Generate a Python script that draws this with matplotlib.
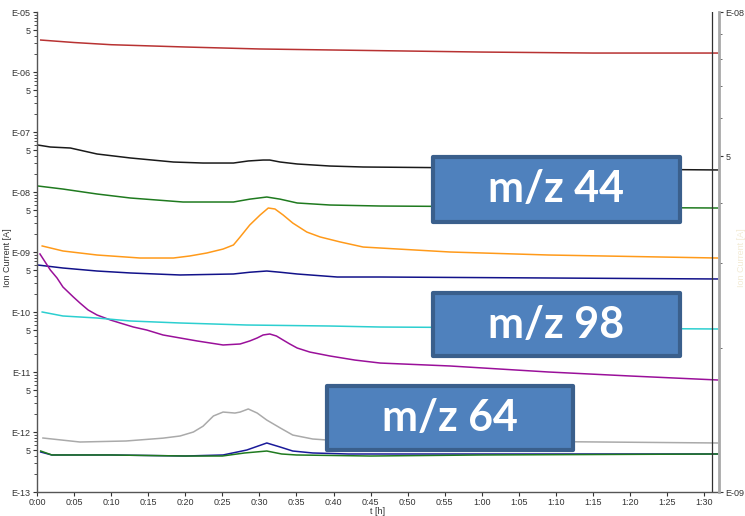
import numpy as np
import matplotlib.pyplot as plt
from matplotlib.patches import FancyBboxPatch
from matplotlib.ticker import FixedLocator, FuncFormatter, LogLocator, NullFormatter

plt.rcParams['font.family'] = ['Liberation Sans', 'DejaVu Sans']

# time in minutes, ion currents in A
t_red = [0.5, 5, 10, 20, 30, 45, 60, 75, 91.8]
red = [3.41e-6, 3.10e-6, 2.85e-6, 2.61e-6, 2.42e-6, 2.28e-6, 2.15e-6, 2.07e-6, 2.07e-6]

t_black = [0.1, 1.8, 4.5, 8.1, 12.6, 18.4, 22.4, 26.5, 28.5, 30.5, 31.4, 32.8, 35.1, 39.5,
           44, 60, 91.8]
black = [6.07e-8, 5.62e-8, 5.41e-8, 4.30e-8, 3.69e-8, 3.16e-8, 3.04e-8, 3.04e-8, 3.29e-8,
         3.41e-8, 3.41e-8, 3.16e-8, 2.93e-8, 2.71e-8, 2.61e-8, 2.51e-8, 2.33e-8]

t_green = [0.1, 3.5, 8.1, 12.6, 19.7, 26.5, 28.7, 31, 32.8, 35.1, 39.5, 46.3, 70, 91.8]
green = [1.26e-8, 1.12e-8, 9.26e-9, 7.94e-9, 6.81e-9, 6.81e-9, 7.6e-9, 8.25e-9, 7.6e-9,
         6.56e-9, 6.07e-9, 5.84e-9, 5.6e-9, 5.41e-9]

t_orange = [0.7, 3.5, 8.1, 13.9, 18.4, 20.6, 22.9, 25.1, 26.5, 27.4, 28.7, 30.1, 31.2, 32.1,
            33.2, 34.5, 36.4, 38.2, 40.9, 44, 55.7, 69, 91.8]
orange = [1.26e-9, 1.04e-9, 8.91e-10, 7.94e-10, 7.94e-10, 8.58e-10, 9.62e-10, 1.12e-9,
          1.31e-9, 1.78e-9, 2.82e-9, 4.14e-9, 5.41e-9, 5.21e-9, 4.14e-9, 3.04e-9, 2.15e-9,
          1.78e-9, 1.47e-9, 1.21e-9, 1.0e-9, 8.91e-10, 7.94e-10]

t_navy = [0.1, 3.5, 8.1, 12.6, 19.3, 26.5, 28.7, 31, 32.8, 35.1, 40.5, 46.3, 91.8]
navy = [6.07e-10, 5.41e-10, 4.82e-10, 4.47e-10, 4.14e-10, 4.30e-10, 4.6e-10, 4.82e-10,
        4.6e-10, 4.30e-10, 3.83e-10, 3.83e-10, 3.55e-10]

t_purple = [0.4, 1.1, 1.8, 2.7, 3.5, 4.9, 5.8, 6.9, 8.1, 9.9, 11.2, 13.0, 14.8, 17.0, 19.3,
            21.6, 25.1, 27.4, 28.7, 29.7, 30.5, 31.4, 32.3, 33.2, 34.1, 35.1, 36.8, 39.5,
            42.9, 46.3, 55.7, 69, 80, 91.8]
purple = [9.26e-10, 6.81e-10, 5.01e-10, 3.69e-10, 2.61e-10, 1.78e-10, 1.41e-10, 1.08e-10,
          8.91e-11, 7.36e-11, 6.56e-11, 5.62e-11, 5.01e-11, 4.14e-11, 3.69e-11, 3.29e-11,
          2.82e-11, 2.93e-11, 3.29e-11, 3.69e-11, 4.14e-11, 4.30e-11, 3.98e-11, 3.41e-11,
          2.93e-11, 2.51e-11, 2.15e-11, 1.85e-11, 1.58e-11, 1.41e-11, 1.26e-11, 1.0e-11,
          8.58e-12, 7.36e-12]

t_cyan = [0.7, 3.5, 8.1, 12.6, 19.3, 28.3, 39.5, 46.3, 91.8]
cyan = [1.0e-10, 8.58e-11, 7.94e-11, 7.08e-11, 6.56e-11, 6.07e-11, 5.84e-11, 5.62e-11, 5.21e-11]

t_gray = [0.8, 5.8, 12, 17, 19.3, 21.1, 22.4, 23.8, 25.1, 26.7, 27.4, 28.5, 29.7, 31, 32.8,
          34.5, 37.2, 39.1, 60, 91.8]
gray = [7.94e-13, 6.81e-13, 7.08e-13, 7.9e-13, 8.58e-13, 1.0e-12, 1.25e-12, 1.85e-12,
        2.15e-12, 2.07e-12, 2.15e-12, 2.42e-12, 2.07e-12, 1.58e-12, 1.17e-12, 8.9e-13,
        7.64e-13, 7.36e-13, 7.08e-13, 6.56e-13]

t_blue_low = [0.5, 2, 10, 20, 25.1, 28.3, 31, 32.8, 34.5, 37.2, 42, 60, 91.8]
blue_low = [4.64e-13, 4.14e-13, 4.14e-13, 3.98e-13, 4.14e-13, 5.01e-13, 6.56e-13, 5.62e-13,
            4.82e-13, 4.47e-13, 4.30e-13, 4.30e-13, 4.30e-13]

t_green_low = [0.5, 2, 10, 20, 25, 28, 31, 33, 35, 45, 60, 91.8]
green_low = [4.82e-13, 4.14e-13, 4.14e-13, 3.98e-13, 3.98e-13, 4.47e-13, 4.82e-13, 4.30e-13,
             4.14e-13, 3.98e-13, 4.14e-13, 4.30e-13]

series = [
    (t_red, red, '#b83232'),
    (t_black, black, '#1a1a1a'),
    (t_green, green, '#1f7a1f'),
    (t_orange, orange, '#ff9a1a'),
    (t_navy, navy, '#12128a'),
    (t_purple, purple, '#9a109a'),
    (t_cyan, cyan, '#2ccfd0'),
    (t_gray, gray, '#aaaaaa'),
    (t_blue_low, blue_low, '#1a1a9a'),
    (t_green_low, green_low, '#1f7a1f'),
]

box_labels = ['m/z 44', 'm/z 98', 'm/z 64']
# box extents in pixels (left, top, right, bottom)
box_px = [(433, 157, 680, 222), (433, 293, 680, 356), (327, 386, 573, 450)]

W, H = 745, 516
fig = plt.figure(figsize=(W / 100, H / 100), dpi=100)
ax = fig.add_axes([37 / W, 1 - 492 / H, (719 - 37) / W, (492 - 12) / H])

for tt, vv, c in series:
    ax.plot(tt, vv, color=c, lw=1.1, solid_joinstyle='round')

ax.set_yscale('log')
ax.set_ylim(1e-13, 1e-5)
ax.set_xlim(0, 92)

def ylab(v, pos):
    e = int(round(np.log10(v)))
    if abs(v - 10.0 ** e) / v < 1e-6:
        return 'E-%02d' % -e
    return '5'

majors = [m * 10.0 ** e for e in range(-13, -4) for m in (1, 5)]
majors = [v for v in majors if v <= 1e-5]
ax.yaxis.set_major_locator(FixedLocator(majors))
ax.yaxis.set_major_formatter(FuncFormatter(ylab))
ax.yaxis.set_minor_locator(LogLocator(base=10, subs=(2, 3, 4, 6, 7, 8, 9), numticks=20))
ax.yaxis.set_minor_formatter(NullFormatter())

xt = np.arange(0, 91, 5)
ax.set_xticks(xt)
ax.set_xticklabels(['%d:%02d' % (m // 60, m % 60) for m in xt])

ax.tick_params(axis='both', which='major', labelsize=6.5, length=3, width=0.8,
               colors='#333333', pad=1.5)
ax.tick_params(axis='y', which='minor', length=2, width=0.6, colors='#333333')
for s in ['top', 'right']:
    ax.spines[s].set_visible(False)
for s in ['left', 'bottom']:
    ax.spines[s].set_color('#555555')
    ax.spines[s].set_linewidth(1.0)

ax.axvline(91.1, color='#303030', lw=0.9)

ax.text(0.5, -0.032, 't [h]', transform=ax.transAxes, ha='center', va='top',
        fontsize=6.5, color='#333333')
fig.text(8 / W, 0.5, 'Ion Current [A]', rotation=90, ha='center', va='center',
         fontsize=6.5, color='#333333')
fig.text(741 / W, 0.5, 'Ion Current [A]', rotation=90, ha='center', va='center',
         fontsize=6.5, color='#f2ead4')

ax2 = ax.twinx()
ax2.set_yscale('log')
ax2.set_ylim(1e-9, 1e-8)
ax2.yaxis.set_major_locator(FixedLocator([1e-9, 5e-9, 1e-8]))
ax2.yaxis.set_major_formatter(FuncFormatter(ylab))
ax2.yaxis.set_minor_locator(LogLocator(base=10, subs=(2, 3, 4, 6, 7, 8, 9), numticks=20))
ax2.yaxis.set_minor_formatter(NullFormatter())
ax2.tick_params(axis='y', which='major', labelsize=6.5, length=3, width=0.8,
                colors='#333333', pad=1.5)
ax2.tick_params(axis='y', which='minor', length=2, width=0.6, colors='#555555')
for s in ['top', 'left', 'bottom']:
    ax2.spines[s].set_visible(False)
ax2.spines['right'].set_color('#a8a8a8')
ax2.spines['right'].set_linewidth(2.0)

for label, (x0, y0, x1, y1) in zip(box_labels, box_px):
    patch = FancyBboxPatch((x0 / W, 1 - y1 / H), (x1 - x0) / W, (y1 - y0) / H,
                           boxstyle='square,pad=0', transform=fig.transFigure,
                           facecolor='#4f81bd', edgecolor='#3a5f8c', linewidth=3,
                           joinstyle='round', zorder=10)
    fig.add_artist(patch)
    fig.text((x0 + x1) / 2 / W, 1 - (y0 + y1) / 2 / H, label, ha='center', va='center',
             color='white', fontsize=31, fontweight='bold', family='Lato', zorder=11)

fig.savefig('out.png', dpi=100)
